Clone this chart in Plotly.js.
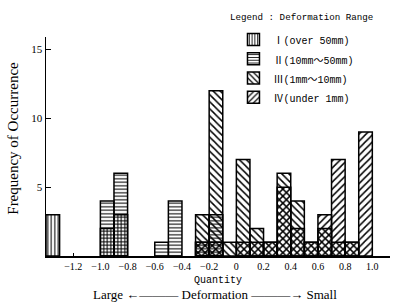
<!DOCTYPE html>
<html>
<head>
<meta charset="utf-8">
<script src="https://cdn.plot.ly/plotly-3.0.1.min.js"></script>
<style>html,body{margin:0;padding:0;background:#fff}#chart{width:394px;height:303px}</style>
</head>
<body>
<div id="chart"></div>
<script>
// Bin left edges (bin width 0.1) and counts per deformation range
const binWidth = 0.1;
const catI_x = [-1.4, -1.0, -0.9];
const catI_y = [3, 2, 3];
const catII_x = [-1.0, -0.9, -0.6, -0.5, -0.3, -0.2];
const catII_y = [4, 6, 1, 4, 1, 3];
const catIII_x = [-0.3, -0.2, -0.1, 0.0, 0.1, 0.2, 0.3, 0.4, 0.5, 0.6, 0.7, 0.8];
const catIII_y = [3, 12, 1, 7, 2, 1, 6, 4, 1, 2, 1, 1];
const catIV_x = [-0.3, -0.2, 0.0, 0.1, 0.2, 0.3, 0.4, 0.5, 0.6, 0.7, 0.8, 0.9];
const catIV_y = [1, 1, 1, 1, 1, 5, 2, 1, 3, 7, 1, 9];
const seriesNames = ["Ⅰ(over 50mm)", "Ⅱ(10mm～50mm)", "Ⅲ(1mm～10mm)", "Ⅳ(under 1mm)"];
const xTickVals = [-1.2, -1.0, -0.8, -0.6, -0.4, -0.2, 0, 0.2, 0.4, 0.6, 0.8, 1.0];
const xTickText = ["−1.2", "−1.0", "−0.8", "−0.6", "−0.4", "−0.2", "0", "0.2", "0.4", "0.6", "0.8", "1.0"];
const yTickVals = [5, 10, 15];

const serif = "Liberation Serif, Times New Roman, serif";
const mono = "Liberation Mono, Noto Sans CJK JP, monospace";

function mk(x, y, name, shape, size) {
  return {
    type: "bar", x: x, y: y,
    name: '<span style="font-size:10px">' + name + '</span>',
    width: binWidth, offset: 0,
    marker: {
      color: "rgba(0,0,0,0)",
      line: {color: "#000", width: 1.5},
      pattern: {shape: shape, fgcolor: "#000", bgcolor: "rgba(0,0,0,0)", size: size, solidity: 0.3, fillmode: "replace"}
    },
    hoverinfo: "x+y+name"
  };
}

const data = [
  mk(catI_x, catI_y, seriesNames[0], "|", 3.5),
  mk(catII_x, catII_y, seriesNames[1], "-", 3.5),
  mk(catIII_x, catIII_y, seriesNames[2], "\\", 5),
  mk(catIV_x, catIV_y, seriesNames[3], "/", 5)
];

const layout = {
  width: 394, height: 303,
  margin: {l: 46, r: 4, t: 37, b: 47},
  paper_bgcolor: "#fff", plot_bgcolor: "#fff",
  barmode: "overlay",
  showlegend: true,
  legend: {
    x: 0.545, y: 1.055, xanchor: "left", yanchor: "top",
    bgcolor: "rgba(0,0,0,0)", traceorder: "normal",
    font: {family: mono, size: 12.5, color: "#000"},
    itemwidth: 30
  },
  xaxis: {
    range: [-1.4, 1.13],
    showgrid: false, zeroline: false,
    showline: true, linecolor: "#000", linewidth: 1.5,
    tickmode: "array", tickvals: xTickVals, ticktext: xTickText,
    ticks: "inside", ticklen: 3, tickcolor: "#000",
    tickfont: {family: serif, size: 10, color: "#000"}
  },
  yaxis: {
    range: [0, 15.9],
    showgrid: false, zeroline: false,
    showline: true, linecolor: "#000", linewidth: 1.5,
    tickmode: "array", tickvals: yTickVals,
    ticks: "inside", ticklen: 5, tickcolor: "#000",
    tickfont: {family: serif, size: 11, color: "#000"}
  },
  annotations: [
    {text: "Legend : Deformation Range", xref: "paper", yref: "paper", x: 0.53, y: 1.09, xanchor: "left", yanchor: "middle", showarrow: false, font: {family: mono, size: 9.2, color: "#000"}},
    {text: "Quantity", xref: "paper", yref: "paper", x: 0.5, y: -0.114, xanchor: "center", yanchor: "middle", showarrow: false, font: {family: mono, size: 10, color: "#000"}},
    {text: "Large ←——— Deformation ———→ Small", xref: "paper", yref: "paper", x: 0.49, y: -0.178, xanchor: "center", yanchor: "middle", showarrow: false, font: {family: serif, size: 13, color: "#000"}},
    {text: "Frequency of Occurrence", xref: "paper", yref: "paper", x: -0.096, y: 0.54, xanchor: "center", yanchor: "middle", textangle: -90, showarrow: false, font: {family: serif, size: 15, color: "#000"}}
  ]
};

Plotly.newPlot("chart", data, layout, {displayModeBar: false, staticPlot: true});
</script>
</body>
</html>
